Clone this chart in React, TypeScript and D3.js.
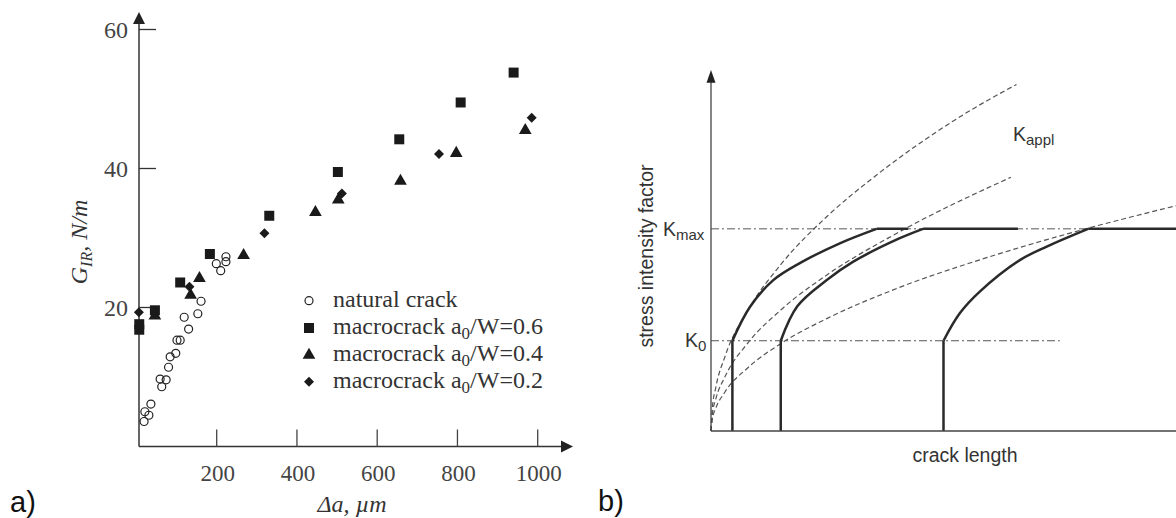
import React from "react";
import * as d3 from "d3";

// ---- a) resistance curve data (Δa in µm, G_IR in N/m)
const xTicks = [200, 400, 600, 800, 1000];
const yTicks = [20, 40, 60];

const naturalCrack: [number, number][] = [
  [19, 3.6], [31, 4.5], [21, 5.0], [36, 6.1], [63, 8.6], [59, 9.7], [74, 9.6],
  [80, 11.4], [84, 12.9], [98, 13.4], [101, 15.3], [109, 15.3], [130, 16.9],
  [119, 18.6], [153, 19.1], [161, 20.9], [210, 25.3], [199, 26.3], [223, 26.6], [223, 27.3],
];
const macro06: [number, number][] = [
  [7, 16.8], [7, 17.6], [46, 19.6], [109, 23.6], [183, 27.7], [331, 33.2],
  [502, 39.5], [655, 44.2], [808, 49.5], [940, 53.8],
];
const macro04: [number, number][] = [
  [46, 18.8], [135, 21.8], [157, 24.2], [267, 27.5], [446, 33.7], [503, 35.5],
  [658, 38.2], [797, 42.2], [969, 45.5],
];
const macro02: [number, number][] = [
  [6, 19.3], [132, 23.0], [319, 30.7], [512, 36.4], [754, 42.1], [985, 47.3],
];
const legendLabels = ["natural crack", "macrocrack a", "macrocrack a", "macrocrack a"];
const legendRatios = ["", "/W=0.6", "/W=0.4", "/W=0.2"];

// ---- b) schematic K vs crack length (arbitrary units 0..100)
const K0 = 25;
const Kmax = 56;
const crackStarts = [4.6, 15, 50];
const rCurves: [number, number][][] = [
  [[4.6, 25], [8.4, 34.4], [13.4, 41.8], [19.1, 46.5], [27.7, 52], [35.6, 56]],
  [[15, 25], [18.6, 34.6], [24.9, 41.8], [30.6, 46.9], [40.6, 53.4], [45.6, 56]],
  [[50, 25], [53.5, 32.6], [57.8, 38.6], [66.5, 47.4], [72.2, 51.1], [81.1, 56]],
];
const plateauEnds = [42.4, 66, 100];
const kAppl: [number, number][][] = [
  [[0, 0], [0.3, 6.5], [1, 11.9], [3, 20.6], [8, 33.6], [15, 46.1], [25, 59.5], [35, 70.3], [45, 79.8], [55, 88.2], [65.7, 96]],
  [[0, 0], [0.3, 4.7], [1, 8.7], [3, 15], [8, 24.5], [15, 33.5], [25, 43.3], [40, 54.8], [64.5, 70.3]],
  [[0, 0], [0.3, 3.4], [1, 6.2], [3, 10.8], [8, 17.6], [15, 24.2], [25, 31.2], [40, 39.5], [60, 48.3], [80, 55.8], [100, 62.4]],
];

const serif = "'Liberation Serif', 'DejaVu Serif', serif";
const sans = "'Liberation Sans', Arial, sans-serif";

export default function App() {
  // left panel scales
  const x = d3.scaleLinear().domain([200, 1000]).range([216.7, 537.7]);
  const y = d3.scaleLinear().domain([0, 60]).range([446.5, 29.5]);
  const ax0 = 139;
  const ay0 = y(0);

  const sq = d3.symbol(d3.symbolSquare, 100)()!;
  const tri = d3.symbol(d3.symbolTriangle, 70)()!;
  const dia = d3.symbol(d3.symbolSquare, 50)()!;

  // right panel scales
  const rx = d3.scaleLinear().domain([0, 100]).range([711, 1176]);
  const ry = d3.scaleLinear().domain([0, 100]).range([431, 70]);
  const dashLine = d3.line<[number, number]>().x(d => rx(d[0])).y(d => ry(d[1])).curve(d3.curveMonotoneX);
  const rLine = d3.line<[number, number]>().x(d => rx(d[0])).y(d => ry(d[1])).curve(d3.curveCatmullRom.alpha(0.5));

  const legendY = [300.7, 328, 355, 381.7];

  return (
    <div style={{ position: "absolute", left: 0, top: 0 }}>
      <svg width={1176} height={518} style={{ display: "block", background: "#fff" }}>
        {/* ===== a) ===== */}
        <g>
          <line x1={ax0} y1={ay0} x2={ax0} y2={20} stroke="#333" strokeWidth={1.5} />
          <path d={`M${ax0 - 6},${24} L${ax0},${12} L${ax0 + 6},${24} Z`} fill="#222" />
          <line x1={ax0} y1={ay0} x2={565} y2={ay0} stroke="#333" strokeWidth={1.5} />
          <path d={`M${561},${ay0 - 6} L${573},${ay0} L${561},${ay0 + 6} Z`} fill="#222" />

          {yTicks.map(t => (
            <g key={t}>
              <line x1={ax0} x2={ax0 + 17} y1={y(t)} y2={y(t)} stroke="#333" strokeWidth={1.3} />
              <text x={128} y={y(t) + 8} textAnchor="end" fontFamily={serif} fontSize={24} fill="#444">{t}</text>
            </g>
          ))}
          {xTicks.map(t => (
            <g key={t}>
              <line x1={x(t)} x2={x(t)} y1={ay0} y2={ay0 - 17} stroke="#444" strokeWidth={1.3} />
              <text x={x(t) + 1} y={481} textAnchor="middle" fontFamily={serif} fontSize={23} fill="#444">{t}</text>
            </g>
          ))}

          <text x={352} y={512} textAnchor="middle" fontFamily={serif} fontStyle="italic" fontSize={24} fill="#333">
            Δa, µm
          </text>
          <text transform="translate(87,242) rotate(-90)" textAnchor="middle" fontFamily={serif} fontStyle="italic" fontSize={24} fill="#333">
            G<tspan fontSize={16} dy={5}>IR</tspan><tspan dy={-5}>, N/m</tspan>
          </text>

          {naturalCrack.map((d, i) => (
            <circle key={"n" + i} cx={x(d[0])} cy={y(d[1])} r={4} fill="none" stroke="#222" strokeWidth={1.2} />
          ))}
          {macro06.map((d, i) => (
            <path key={"s" + i} d={sq} transform={`translate(${x(d[0])},${y(d[1])})`} fill="#1a1a1a" />
          ))}
          {macro04.map((d, i) => (
            <path key={"t" + i} d={tri} transform={`translate(${x(d[0])},${y(d[1])})`} fill="#1a1a1a" />
          ))}
          {macro02.map((d, i) => (
            <path key={"d" + i} d={dia} transform={`translate(${x(d[0])},${y(d[1])}) rotate(45)`} fill="#1a1a1a" />
          ))}

          {legendY.map((ly, i) => (
            <g key={"l" + i}>
              {i === 0 && <circle cx={309} cy={ly} r={4} fill="none" stroke="#222" strokeWidth={1.2} />}
              {i === 1 && <path d={sq} transform={`translate(309,${ly})`} fill="#1a1a1a" />}
              {i === 2 && <path d={tri} transform={`translate(309,${ly})`} fill="#1a1a1a" />}
              {i === 3 && <path d={dia} transform={`translate(309,${ly}) rotate(45)`} fill="#1a1a1a" />}
              <text x={333} y={ly + 6} fontFamily={serif} fontSize={24} fill="#333">
                {legendLabels[i]}
                {i > 0 && <tspan fontSize={17} dy={5}>0</tspan>}
                {i > 0 && <tspan dy={-5}>{legendRatios[i]}</tspan>}
              </text>
            </g>
          ))}

          <text x={10} y={512} fontFamily={sans} fontSize={29} fill="#111">a)</text>
        </g>

        {/* ===== b) ===== */}
        <g>
          <text x={598} y={511} fontFamily={sans} fontSize={29} fill="#111">b)</text>

          {/* reference levels */}
          <line x1={rx(0)} x2={rx(100)} y1={ry(Kmax)} y2={ry(Kmax)} stroke="#555" strokeWidth={1} strokeDasharray="8 3 2 3" />
          <line x1={rx(0)} x2={rx(75)} y1={ry(K0)} y2={ry(K0)} stroke="#555" strokeWidth={1} strokeDasharray="8 3 2 3" />

          {/* applied K curves */}
          {kAppl.map((c, i) => (
            <path key={"k" + i} d={dashLine(c)!} fill="none" stroke="#555" strokeWidth={1.2} strokeDasharray="5 3" />
          ))}

          {/* R curves */}
          {rCurves.map((c, i) => (
            <g key={"r" + i}>
              <line x1={rx(crackStarts[i])} x2={rx(crackStarts[i])} y1={ry(0)} y2={ry(K0)} stroke="#2a2a2a" strokeWidth={2.5} />
              <path d={rLine(c)!} fill="none" stroke="#2a2a2a" strokeWidth={2.5} strokeLinejoin="round" />
              <line x1={rx(c[c.length - 1][0])} x2={rx(plateauEnds[i])} y1={ry(Kmax)} y2={ry(Kmax)} stroke="#2a2a2a" strokeWidth={2.5} />
            </g>
          ))}

          {/* axes */}
          <line x1={rx(0)} y1={ry(0)} x2={rx(0)} y2={ry(97)} stroke="#444" strokeWidth={1.3} />
          <path d={`M${rx(0) - 4.5},${ry(97) + 2} L${rx(0)},${ry(100)} L${rx(0) + 4.5},${ry(97) + 2} Z`} fill="#222" />
          <line x1={rx(0)} y1={ry(0)} x2={rx(100)} y2={ry(0)} stroke="#444" strokeWidth={1.3} />

          <text x={663} y={236} fontFamily={sans} fontSize={19.5} fill="#333">
            K<tspan fontSize={15} dy={4}>max</tspan>
          </text>
          <text x={685} y={347} fontFamily={sans} fontSize={19.5} fill="#333">
            K<tspan fontSize={15} dy={4}>0</tspan>
          </text>
          <text x={1013} y={141} fontFamily={sans} fontSize={19.5} fill="#333">
            K<tspan fontSize={15} dy={4}>appl</tspan>
          </text>
          <text x={965} y={462} textAnchor="middle" fontFamily={sans} fontSize={19.5} fill="#333">crack length</text>
          <text transform="translate(653,256) rotate(-90)" textAnchor="middle" fontFamily={sans} fontSize={19.5} fill="#333">
            stress intensity factor
          </text>
        </g>
      </svg>
    </div>
  );
}
